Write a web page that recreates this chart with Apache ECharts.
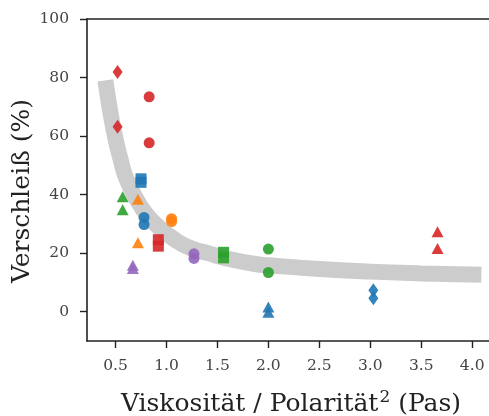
<!DOCTYPE html>
<html>
<head>
<meta charset="utf-8">
<script src="https://cdn.jsdelivr.net/npm/echarts@6/dist/echarts.min.js"></script>
<style>
  html, body { margin: 0; padding: 0; background: #fff; }
  #chart { width: 489px; height: 416px; }
</style>
</head>
<body>
<div id="chart"></div>
<script>
// tick labels
const xTicks = [0.5, 1.0, 1.5, 2.0, 2.5, 3.0, 3.5, 4.0]
const yTicks = [0, 20, 40, 60, 80, 100]

// grey trend band
const curveX = [0.40, 0.45, 0.50, 0.55, 0.60, 0.70, 0.80, 0.92, 1.09, 1.25, 1.40, 1.58, 1.87, 2.00, 2.50, 3.00, 3.50, 4.09]
const curveY = [79, 68, 59, 52, 46, 38.8, 33.4, 29, 24.4, 21.5, 20.1, 18.3, 16.3, 15.9, 14.6, 13.7, 13.1, 12.6]

// measured points [viscosity/polarity^2, wear %]
const redDiamond = [[0.52, 81.9], [0.52, 63.2]]
const redCircle = [[0.83, 73.4], [0.83, 57.7]]
const redSquare = [[0.92, 24.6], [0.92, 22.4]]
const redTriangle = [[3.66, 27.3], [3.66, 21.6]]
const blueSquare = [[0.75, 45.4], [0.75, 44.2]]
const blueCircle = [[0.78, 32.2], [0.78, 29.8]]
const blueTriangle = [[2.0, 1.6], [2.0, -0.2]]
const blueDiamond = [[3.03, 7.3], [3.03, 4.6]]
const greenTriangle = [[0.57, 39.3], [0.57, 34.8]]
const greenSquare = [[1.56, 20.3], [1.56, 18.4]]
const greenCircle = [[2.0, 21.4], [2.0, 13.4]]
const orangeTriangle = [[0.72, 38.4], [0.72, 23.6]]
const orangeCircle = [[1.05, 31.8], [1.05, 30.8]]
const purpleCircle = [[1.27, 19.8], [1.27, 18.2]]
const purpleTriangle = [[0.67, 15.9], [0.67, 14.8]]

const RED = '#d62728'
const BLUE = '#1f77b4'
const GREEN = '#2ca02c'
const ORANGE = '#ff7f0e'
const PURPLE = '#9467bd'

const shapes = {
  circle: { symbol: 'circle', size: 11 },
  square: { symbol: 'rect', size: 11 },
  triangle: { symbol: 'triangle', size: [12, 11] },
  diamond: { symbol: 'diamond', size: [10, 14] }
}

const groups = [
  { data: redDiamond, color: RED, shape: 'diamond' },
  { data: redCircle, color: RED, shape: 'circle' },
  { data: redSquare, color: RED, shape: 'square' },
  { data: redTriangle, color: RED, shape: 'triangle' },
  { data: blueSquare, color: BLUE, shape: 'square' },
  { data: blueCircle, color: BLUE, shape: 'circle' },
  { data: blueTriangle, color: BLUE, shape: 'triangle' },
  { data: blueDiamond, color: BLUE, shape: 'diamond' },
  { data: greenTriangle, color: GREEN, shape: 'triangle' },
  { data: greenSquare, color: GREEN, shape: 'square' },
  { data: greenCircle, color: GREEN, shape: 'circle' },
  { data: orangeTriangle, color: ORANGE, shape: 'triangle' },
  { data: orangeCircle, color: ORANGE, shape: 'circle' },
  { data: purpleCircle, color: PURPLE, shape: 'circle' },
  { data: purpleTriangle, color: PURPLE, shape: 'triangle' }
]

const FONT = 'DejaVu Serif'
const X_MIN = 0.22
const X_MAX = 4.165

const chart = echarts.init(document.getElementById('chart'), null, { renderer: 'canvas' })

const spine = { show: true, onZero: false, lineStyle: { color: '#222', width: 1.6 } }

const option = {
  animation: false,
  backgroundColor: '#fff',
  grid: {
    left: 87,
    top: 19,
    right: 0,
    bottom: 75,
    outerBoundsMode: 'none'
  },
  xAxis: [{
    type: 'value',
    min: X_MIN,
    max: X_MAX,
    name: '{a|Viskosität / Polarität}{s|2}{a| (Pas)}',
    nameLocation: 'middle',
    nameGap: 48,
    nameTextStyle: {
      padding: [0, 0, 0, 6],
      rich: {
        a: { fontFamily: FONT, fontSize: 25, color: '#222', lineHeight: 30 },
        s: { fontFamily: FONT, fontSize: 17, color: '#222', lineHeight: 30, padding: [0, 0, 12, 1] }
      }
    },
    axisLine: spine,
    axisTick: { show: true, length: 7, lineStyle: { color: '#222', width: 1.4 }, customValues: xTicks },
    axisLabel: {
      fontFamily: FONT,
      fontSize: 15.5,
      color: '#444',
      margin: 17,
      customValues: xTicks,
      formatter: v => v.toFixed(1)
    },
    splitLine: { show: false }
  }, {
    // top spine only
    type: 'value',
    position: 'top',
    min: X_MIN,
    max: X_MAX,
    axisLine: spine,
    axisTick: { show: false },
    axisLabel: { show: false },
    splitLine: { show: false }
  }],
  yAxis: {
    type: 'value',
    min: -10,
    max: 100,
    axisLine: spine,
    axisTick: { show: true, length: 7, lineStyle: { color: '#222', width: 1.4 }, customValues: yTicks },
    axisLabel: {
      fontFamily: FONT,
      fontSize: 15.5,
      color: '#444',
      margin: 18,
      customValues: yTicks
    },
    splitLine: { show: false }
  },
  graphic: [{
    type: 'text',
    x: 22,
    y: 191,
    rotation: Math.PI / 2,
    style: {
      text: 'Verschleiß (%)',
      fontFamily: FONT,
      fontSize: 25,
      fill: '#222',
      align: 'center',
      verticalAlign: 'middle'
    }
  }],
  series: [{
    type: 'line',
    data: curveX.map((x, i) => [x, curveY[i]]),
    smooth: 0.5,
    showSymbol: false,
    z: 1,
    lineStyle: { color: '#cccccc', width: 16, cap: 'butt' }
  }].concat(groups.map(g => ({
    type: 'scatter',
    data: g.data,
    symbol: shapes[g.shape].symbol,
    symbolSize: shapes[g.shape].size,
    z: 3,
    itemStyle: { color: g.color, opacity: 0.9 }
  })))
}

chart.setOption(option)
</script>
</body>
</html>
